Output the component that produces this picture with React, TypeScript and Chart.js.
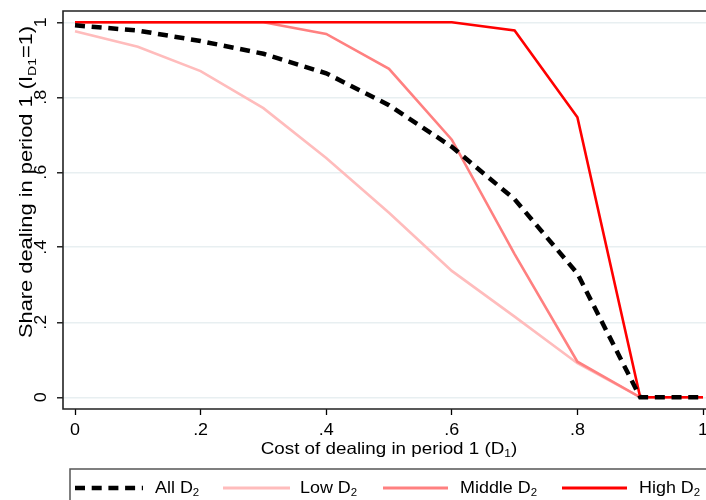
import React, { useEffect, useRef } from "react";
import { Chart, registerables } from "chart.js";

Chart.register(...registerables);

// ---- data ----
const costs = [0, 0.1, 0.2, 0.3, 0.4, 0.5, 0.6, 0.7, 0.8, 0.9, 1.0];
const allD2 = [0.992, 0.978, 0.95, 0.916, 0.864, 0.779, 0.668, 0.528, 0.33, 0, 0];
const lowD2 = [0.976, 0.935, 0.87, 0.771, 0.638, 0.492, 0.337, 0.215, 0.091, 0, 0];
const middleD2 = [1, 1, 1, 1, 0.969, 0.876, 0.687, 0.382, 0.095, 0, 0];
const highD2 = [1, 1, 1, 1, 1, 1, 1, 0.978, 0.747, 0, 0];

const xTicks = [0, 0.2, 0.4, 0.6, 0.8, 1];
const xTickLabels = ["0", ".2", ".4", ".6", ".8", "1"];
const yTicks = [0, 0.2, 0.4, 0.6, 0.8, 1];
const yTickLabels = ["0", ".2", ".4", ".6", ".8", "1"];

const seriesNames = ["All D", "Low D", "Middle D", "High D"];
const seriesSub = "2";

const COLORS = {
  all: "#000000",
  low: "#ffbcbc",
  middle: "#ff8080",
  high: "#ff0000",
};

const FONT = "'Liberation Sans', Arial, Helvetica, sans-serif";

type Part = { text: string; sub?: boolean };

function drawParts(
  ctx: CanvasRenderingContext2D,
  parts: Part[],
  x: number,
  y: number,
  size: number,
  sx: number,
  align: "left" | "center",
  rotate: number,
  color = "#000"
) {
  const subSize = size * 0.64;
  ctx.save();
  let W = 0;
  const widths: number[] = [];
  for (const p of parts) {
    ctx.font = `${p.sub ? subSize : size}px ${FONT}`;
    const w = ctx.measureText(p.text).width;
    widths.push(w);
    W += w;
  }
  ctx.translate(x, y);
  ctx.rotate(rotate);
  ctx.scale(sx, 1);
  let cx = align === "center" ? -W / 2 : 0;
  ctx.fillStyle = color;
  ctx.textBaseline = "alphabetic";
  ctx.textAlign = "left";
  parts.forEach((p, i) => {
    ctx.font = `${p.sub ? subSize : size}px ${FONT}`;
    ctx.fillText(p.text, cx, p.sub ? size * 0.2 : 0);
    cx += widths[i];
  });
  ctx.restore();
}

const decorPlugin = {
  id: "decor",
  afterDatasetsDraw(chart: any) {
    const ctx: CanvasRenderingContext2D = chart.ctx;
    const { left, top, right, bottom } = chart.chartArea;
    ctx.save();
    ctx.strokeStyle = "#222";
    ctx.lineWidth = 1.6;
    ctx.beginPath();
    ctx.moveTo(right + 5, top);
    ctx.lineTo(left, top);
    ctx.lineTo(left, bottom);
    ctx.lineTo(right + 5, bottom);
    ctx.stroke();
    ctx.restore();
  },
  afterDraw(chart: any) {
    const ctx: CanvasRenderingContext2D = chart.ctx;
    const xs = chart.scales.x;
    const ys = chart.scales.y;
    xTicks.forEach((v, i) => {
      drawParts(ctx, [{ text: xTickLabels[i] }], xs.getPixelForValue(v), 435, 16, 1.12, "center", 0);
    });
    yTicks.forEach((v, i) => {
      drawParts(ctx, [{ text: yTickLabels[i] }], 46, ys.getPixelForValue(v), 16, 1.12, "center", -Math.PI / 2);
    });
    drawParts(
      ctx,
      [{ text: "Cost of dealing in period 1 (D" }, { text: "1", sub: true }, { text: ")" }],
      xs.getPixelForValue(0.5),
      454,
      16.5,
      1.14,
      "center",
      0
    );
    drawParts(
      ctx,
      [
        { text: "Share dealing in period 1 (I" },
        { text: "D1", sub: true },
        { text: "=1)" },
      ],
      32,
      182,
      18.5,
      1.18,
      "center",
      -Math.PI / 2
    );
    ctx.save();
    ctx.strokeStyle = "#555";
    ctx.lineWidth = 1.5;
    ctx.strokeRect(70, 469, 700, 60);
    ctx.restore();
    const samples = [
      { x0: 75, x1: 143, color: COLORS.all, lw: 4.5, dash: [10, 6.7], tx: 155 },
      { x0: 223, x1: 290, color: COLORS.low, lw: 3, dash: [], tx: 300 },
      { x0: 383, x1: 448, color: COLORS.middle, lw: 3, dash: [], tx: 460 },
      { x0: 562, x1: 627, color: COLORS.high, lw: 3, dash: [], tx: 639 },
    ];
    samples.forEach((s, i) => {
      ctx.save();
      ctx.strokeStyle = s.color;
      ctx.lineWidth = s.lw;
      ctx.setLineDash(s.dash);
      ctx.beginPath();
      ctx.moveTo(s.x0, 488);
      ctx.lineTo(s.x1, 488);
      ctx.stroke();
      ctx.restore();
      drawParts(ctx, [{ text: seriesNames[i] }, { text: seriesSub, sub: true }], s.tx, 493, 16, 1.12, "left", 0);
    });
  },
};

function toPoints(ys: number[]) {
  return costs.map((c, i) => ({ x: c, y: ys[i] }));
}

export default function App() {
  const ref = useRef<HTMLCanvasElement | null>(null);
  useEffect(() => {
    if (!ref.current) return;
    const chart = new Chart(ref.current, {
      type: "line",
      data: {
        datasets: [
          {
            label: "All D2",
            data: toPoints(allD2),
            borderColor: COLORS.all,
            borderWidth: 4.5,
            borderDash: [10, 6.7],
            borderCapStyle: "butt",
            pointRadius: 0,
            order: 0,
          },
          {
            label: "Low D2",
            data: toPoints(lowD2),
            borderColor: COLORS.low,
            borderWidth: 2.6,
            pointRadius: 0,
            order: 3,
          },
          {
            label: "Middle D2",
            data: toPoints(middleD2),
            borderColor: COLORS.middle,
            borderWidth: 2.6,
            pointRadius: 0,
            order: 2,
          },
          {
            label: "High D2",
            data: toPoints(highD2),
            borderColor: COLORS.high,
            borderWidth: 2.6,
            pointRadius: 0,
            order: 1,
          },
        ],
      },
      options: {
        responsive: false,
        animation: false,
        devicePixelRatio: 1,
        layout: { padding: { top: 11, left: 0, right: 0, bottom: 0 } },
        plugins: { legend: { display: false }, tooltip: { enabled: false } },
        elements: { line: { tension: 0 } },
        scales: {
          x: {
            type: "linear",
            min: -12 / 628,
            max: 1 + 3 / 628,
            afterBuildTicks: (s: any) => {
              s.ticks = xTicks.map((v) => ({ value: v }));
            },
            afterFit: (s: any) => {
              s.height = 91;
            },
            ticks: { display: false },
            border: { display: false },
            grid: {
              drawOnChartArea: false,
              drawTicks: true,
              tickLength: 6,
              tickColor: "#000",
              tickWidth: 1.3,
            },
          },
          y: {
            type: "linear",
            min: 1 + 11.3 / 375 - 398 / 375,
            max: 1 + 11.3 / 375,
            afterBuildTicks: (s: any) => {
              s.ticks = yTicks.map((v) => ({ value: v }));
            },
            afterFit: (s: any) => {
              s.width = 63;
            },
            ticks: { display: false },
            border: { display: false },
            grid: {
              drawOnChartArea: true,
              color: "#e8eff1",
              lineWidth: 1.6,
              drawTicks: true,
              tickLength: 6,
              tickColor: "#000",
              tickWidth: 1.3,
            },
          },
        },
      } as any,
      plugins: [decorPlugin],
    });
    return () => chart.destroy();
  }, []);
  return (
    <div style={{ position: "absolute", left: 0, top: 0, width: 706, height: 500, background: "#fff" }}>
      <canvas ref={ref} width={706} height={500} style={{ display: "block", width: 706, height: 500 }} />
    </div>
  );
}
